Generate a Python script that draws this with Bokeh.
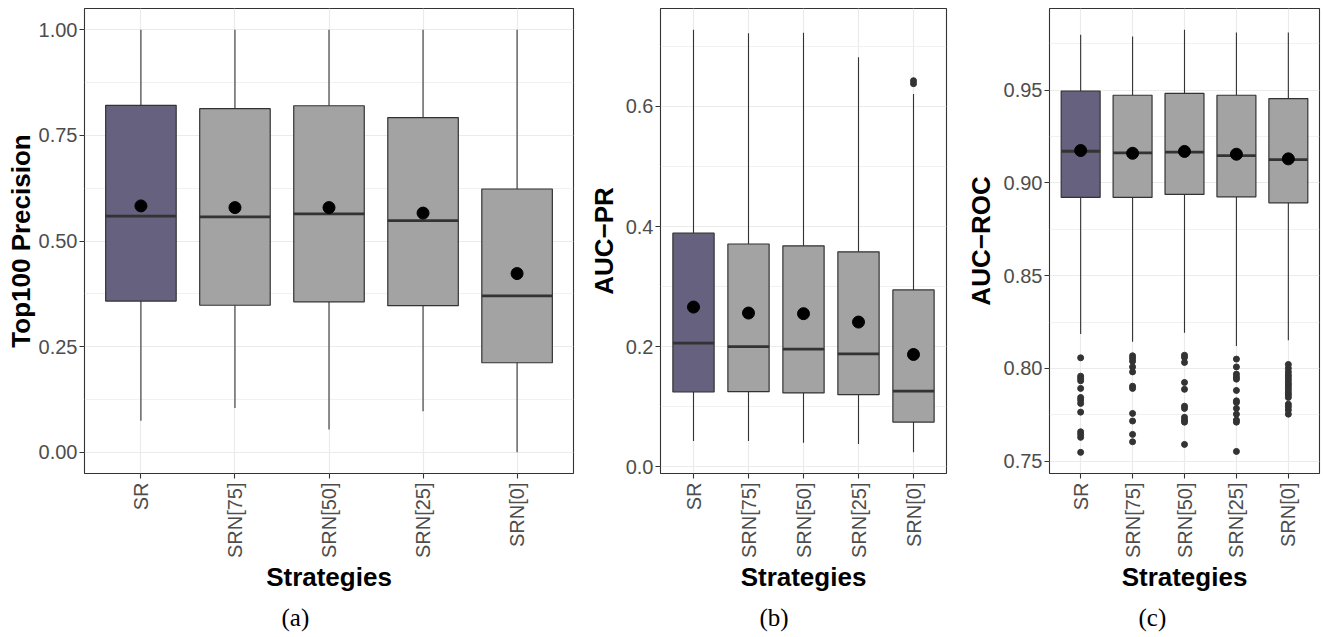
import math
from bokeh.plotting import figure
from bokeh.models import Range1d, FixedTicker, NumeralTickFormatter, Title
from bokeh.layouts import row
from bokeh.embed import file_html
from bokeh.resources import INLINE

# ---------------- data ----------------
categories = ["SR", "SRN[75]", "SRN[50]", "SRN[25]", "SRN[0]"]
box_colors = ["#65617E", "#A3A3A3", "#A3A3A3", "#A3A3A3", "#A3A3A3"]

# (a) Top100 Precision
a_lower = [0.075, 0.105, 0.054, 0.097, 0.000]
a_q1 = [0.358, 0.348, 0.356, 0.347, 0.212]
a_median = [0.559, 0.557, 0.564, 0.548, 0.370]
a_q3 = [0.821, 0.813, 0.820, 0.792, 0.623]
a_upper = [1.000, 1.000, 1.000, 1.000, 1.000]
a_mean = [0.583, 0.579, 0.579, 0.566, 0.423]
a_outliers = [[], [], [], [], []]

# (b) AUC-PR
b_lower = [0.043, 0.043, 0.040, 0.038, 0.024]
b_q1 = [0.1245, 0.125, 0.123, 0.120, 0.0745]
b_median = [0.206, 0.200, 0.196, 0.188, 0.126]
b_q3 = [0.389, 0.371, 0.368, 0.358, 0.2945]
b_upper = [0.728, 0.722, 0.723, 0.682, 0.621]
b_mean = [0.266, 0.256, 0.255, 0.241, 0.187]
b_outliers = [[], [], [], [], [0.643, 0.638]]

# (c) AUC-ROC
c_lower = [0.8185, 0.8143, 0.8192, 0.8121, 0.8152]
c_q1 = [0.8922, 0.8922, 0.8938, 0.8925, 0.8893]
c_median = [0.9171, 0.9162, 0.9166, 0.9148, 0.9126]
c_q3 = [0.9496, 0.9473, 0.9483, 0.9473, 0.9455]
c_upper = [0.9800, 0.9790, 0.9827, 0.9811, 0.9811]
c_mean = [0.9175, 0.9160, 0.9170, 0.9155, 0.9130]
c_outliers = [
    [0.8057, 0.7958, 0.7946, 0.7933, 0.7892, 0.7843, 0.7829, 0.7811, 0.7764,
     0.7658, 0.7644, 0.7628, 0.7547],
    [0.8068, 0.8054, 0.8038, 0.8008, 0.7981, 0.7904, 0.7892, 0.7757, 0.7716,
     0.7644, 0.7604],
    [0.8071, 0.8059, 0.8032, 0.7924, 0.7887, 0.7796, 0.7784, 0.7736, 0.7721,
     0.7710, 0.7590],
    [0.8050, 0.8008, 0.7969, 0.7954, 0.7942, 0.7881, 0.7825, 0.7816, 0.7784,
     0.7753, 0.7721, 0.7710, 0.7552],
    [0.8021, 0.8000, 0.7981, 0.7964, 0.7951, 0.7937, 0.7922, 0.7910, 0.7897,
     0.7883, 0.7868, 0.7856, 0.7843, 0.7807, 0.7793, 0.7775, 0.7753],
]

a_ticks = [0.0, 0.25, 0.5, 0.75, 1.0]
a_minor = [0.125, 0.375, 0.625, 0.875]
b_ticks = [0.0, 0.2, 0.4, 0.6]
b_minor = [0.1, 0.3, 0.5, 0.7]
c_ticks = [0.75, 0.80, 0.85, 0.90, 0.95]
c_minor = [0.775, 0.825, 0.875, 0.925, 0.975]

# ---------------- style ----------------
FONT = "Liberation Sans"
SERIF = "Liberation Serif"
H = 637
TOP = 8
FRAME_H = 465
BOTTOM = H - TOP - FRAME_H
DARK = "#333333"
GRID = "#EBEBEB"
TICKTXT = "#4D4D4D"


def panel(ytitle, caption, lower, q1, med, q3, upper, mean, outliers,
          yticks, yminor, yfmt, width, left, right, ytitle_standoff, caption_offset):
    x0, x1 = 0.4, len(categories) + 0.6
    allv = lower + upper + [v for o in outliers for v in o]
    lo, hi = min(allv), max(allv)
    pad = 0.05 * (hi - lo)
    y0, y1 = lo - pad, hi + pad
    p = figure(width=width, height=H, x_range=Range1d(x0, x1), y_range=Range1d(y0, y1),
               output_backend="svg", toolbar_location=None,
               min_border_left=left, min_border_right=right,
               min_border_top=TOP, min_border_bottom=BOTTOM)
    p.background_fill_color = "white"
    p.border_fill_color = "white"
    p.outline_line_color = DARK
    p.outline_line_width = 1.1

    xs = list(range(1, len(categories) + 1))

    # grids / axes
    xt = FixedTicker(ticks=xs)
    p.xaxis.ticker = xt
    p.xgrid.ticker = xt
    p.xgrid.grid_line_color = GRID
    p.xgrid.grid_line_width = 1.2
    yt = FixedTicker(ticks=yticks, minor_ticks=yminor)
    p.yaxis.ticker = yt
    p.ygrid.ticker = yt
    p.ygrid.grid_line_color = GRID
    p.ygrid.grid_line_width = 1.2
    p.ygrid.minor_grid_line_color = GRID
    p.ygrid.minor_grid_line_width = 0.7
    p.yaxis.formatter = NumeralTickFormatter(format=yfmt)
    p.xaxis.major_label_overrides = {x: c for x, c in zip(xs, categories)}
    for ax in (p.xaxis[0], p.yaxis[0]):
        ax.axis_line_color = None
        ax.major_tick_line_color = DARK
        ax.major_tick_line_width = 1.1
        ax.major_tick_out = 5
        ax.major_tick_in = 0
        ax.minor_tick_line_color = None
        ax.major_label_text_font = FONT
        ax.major_label_text_color = TICKTXT
        ax.major_label_text_font_size = "20px"
        ax.axis_label_text_font = FONT
        ax.axis_label_text_font_style = "bold"
        ax.axis_label_text_font_size = "26px"
        ax.axis_label_text_color = "black"
    p.yaxis.major_label_standoff = 2
    p.xaxis.major_label_standoff = 4
    p.xaxis.major_label_orientation = math.pi / 2
    p.xaxis.axis_label = "Strategies"
    p.xaxis.axis_label_standoff = 1
    p.yaxis.axis_label = ytitle
    p.yaxis.axis_label_standoff = ytitle_standoff

    # boxplot
    p.segment(x0=xs, y0=q3, x1=xs, y1=upper, line_color=DARK, line_width=1.1)
    p.segment(x0=xs, y0=lower, x1=xs, y1=q1, line_color=DARK, line_width=1.1)
    p.vbar(x=xs, width=0.75, bottom=q1, top=q3, fill_color=box_colors,
           line_color=DARK, line_width=1.2)
    p.segment(x0=[x - 0.375 for x in xs], y0=med, x1=[x + 0.375 for x in xs], y1=med,
              line_color=DARK, line_width=2.8)
    ox = [xs[i] for i, o in enumerate(outliers) for _ in o]
    oy = [v for o in outliers for v in o]
    if oy:
        p.scatter(x=ox, y=oy, size=6, fill_color=DARK, line_color=DARK)
    p.scatter(x=xs, y=mean, size=12, fill_color="black", line_color="black")

    cap = Title(text=caption, align="left", offset=caption_offset,
                text_font=SERIF, text_font_size="25px", text_font_style="normal",
                text_color="black", standoff=12)
    p.add_layout(cap, "below")
    return p


pa = panel("Top100 Precision", "(a)", a_lower, a_q1, a_median, a_q3, a_upper, a_mean,
           a_outliers, a_ticks, a_minor, "0.00", width=585, left=84, right=12,
           ytitle_standoff=0, caption_offset=197)
pb = panel("AUC\u2212PR", "(b)", b_lower, b_q1, b_median, b_q3, b_upper, b_mean,
           b_outliers, b_ticks, b_minor, "0.0", width=377, left=66, right=16,
           ytitle_standoff=4, caption_offset=99)
pc = panel("AUC\u2212ROC", "(c)", c_lower, c_q1, c_median, c_q3, c_upper, c_mean,
           c_outliers, c_ticks, c_minor, "0.00", width=361, left=73, right=4,
           ytitle_standoff=5, caption_offset=89)

layout = row(pa, pb, pc)
open("out.html", "w").write(file_html(layout, INLINE))
